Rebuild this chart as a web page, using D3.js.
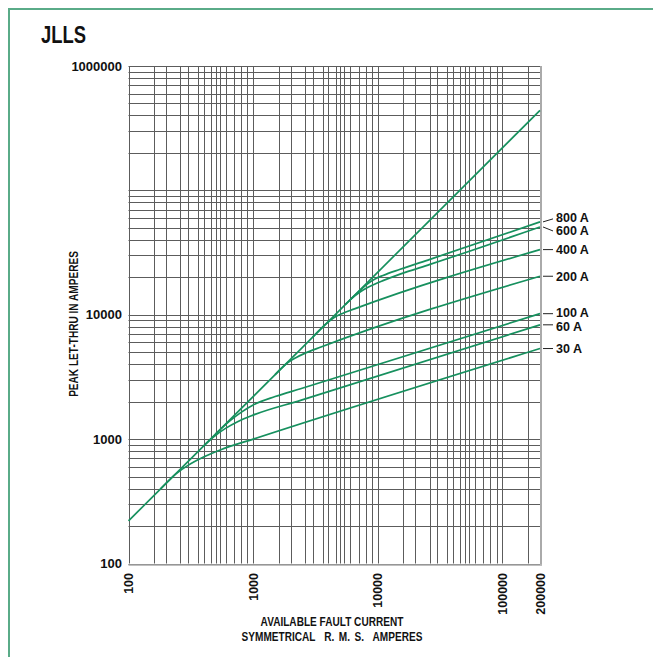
<!DOCTYPE html>
<html>
<head>
<meta charset="utf-8">
<script src="https://cdn.jsdelivr.net/npm/d3@7.9.0/dist/d3.min.js"></script>
<style>
  html, body { margin: 0; padding: 0; background: #fff; }
  svg { display: block; }
  .num { font-family: "Liberation Sans", Arial, sans-serif; font-weight: bold; fill: #111; }
  .narrow { font-family: "Liberation Sans", Arial, sans-serif; font-weight: bold; fill: #111; }
</style>
</head>
<body>
<svg id="chart" width="653" height="657"></svg>
<script>
// unlimited peak (no fuse) line
const envelope = [[100, 220], [200000, 440000]];

// fuse curves: [available rms A, peak let-thru A]
const fuse800 = [[6000, 13200], [7500, 16300], [8500, 18100], [9500, 19400], [11000, 20700], [15100, 23200], [26200, 27900], [200000, 55800]];
const fuse600 = [[5500, 12100], [6500, 14100], [7300, 15400], [8200, 16500], [9500, 17700], [11000, 18800], [15100, 21200], [26200, 25400], [200000, 50800]];
const fuse400 = [[3000, 6600], [3900, 8550], [4500, 9550], [5200, 10250], [6500, 11150], [200000, 33400]];
const fuse200 = [[1500, 3300], [1900, 4130], [2200, 4520], [2600, 4900], [3500, 5500], [200000, 20400]];
const fuse100 = [[500, 1100], [650, 1400], [800, 1640], [1000, 1880], [1500, 2200], [2400, 2540], [200000, 10200]];
const fuse60 = [[400, 880], [480, 1040], [600, 1220], [750, 1380], [1000, 1560], [2400, 2050], [200000, 8300]];
const fuse30 = [[180, 396], [240, 525], [300, 615], [400, 718], [550, 822], [1000, 1000], [200000, 5350]];

const fuseLabels = ['800 A', '600 A', '400 A', '200 A', '100 A', '60 A', '30 A'];
const fuseCurves = [fuse800, fuse600, fuse400, fuse200, fuse100, fuse60, fuse30];

const xTickLabels = [100, 1000, 10000, 100000, 200000];
const yTickLabels = [100, 1000, 10000, 1000000];
const xGridSteps = [1, 1.6, 2, 2.6, 3, 3.6, 4, 4.6, 5, 5.4, 6, 7, 8, 9];
const yGridSteps = [1, 2, 3, 4, 5, 6, 7, 8, 9];

// label nudges (text) and leader nudges for the crowded labels
const labelShift = { '800 A': -4.5, '600 A': 4, '100 A': -1.5, '60 A': 1.5 };
const leaderShift = { '800 A': -3, '600 A': 4 };

const svg = d3.select('#chart');
const W = 653, H = 657;
const pLeft = 128.5, pRight = 540, pTop = 66, pBottom = 563.5;
const squeeze = 0.84;   // fake condensed face

const x = d3.scaleLog().domain([100, 200000]).range([pLeft, pRight]);
const y = d3.scaleLog().domain([100, 1000000]).range([pBottom, pTop]);

// outer green frame (only top/left visible)
svg.append('rect')
    .attr('x', 9).attr('y', 9)
    .attr('width', W + 20).attr('height', H + 20)
    .attr('fill', 'none')
    .attr('stroke', '#5aab88')
    .attr('stroke-width', 2);

svg.append('text')
    .attr('class', 'narrow')
    .attr('transform', `translate(41,43) scale(${0.8},1)`)
    .attr('font-size', 23)
    .text('JLLS');

// grid values
let xGrid = [];
[100, 1000, 10000, 100000].forEach(dec => {
    xGridSteps.forEach(s => { if (dec * s <= 200000) xGrid.push(dec * s); });
});
xGrid.push(200000);
let yGrid = [];
[100, 1000, 10000, 100000].forEach(dec => {
    yGridSteps.forEach(s => yGrid.push(dec * s));
});
yGrid.push(1000000);

const grid = svg.append('g').attr('stroke', '#5c5c5c').attr('stroke-width', 1);
grid.selectAll('.vx').data(xGrid).join('line')
    .attr('x1', d => Math.round(x(d)) + 0.5).attr('x2', d => Math.round(x(d)) + 0.5)
    .attr('y1', pTop).attr('y2', pBottom);
grid.selectAll('.hy').data(yGrid).join('line')
    .attr('y1', d => Math.round(y(d)) + 0.5).attr('y2', d => Math.round(y(d)) + 0.5)
    .attr('x1', pLeft).attr('x2', pRight);

// right and bottom edges look lighter and heavier
svg.append('line')
    .attr('x1', pRight + 1).attr('x2', pRight + 1)
    .attr('y1', pTop).attr('y2', pBottom + 1)
    .attr('stroke', '#aaa').attr('stroke-width', 2);
svg.append('line')
    .attr('x1', pLeft).attr('x2', pRight + 2)
    .attr('y1', pBottom + 1.5).attr('y2', pBottom + 1.5)
    .attr('stroke', '#aaa').attr('stroke-width', 1.5);

// tick labels
svg.append('g').selectAll('text').data(yTickLabels).join('text')
    .attr('class', 'num')
    .attr('x', 122)
    .attr('y', d => y(d))
    .attr('dy', '0.36em')
    .attr('text-anchor', 'end')
    .attr('font-size', 13)
    .text(d => d);

svg.append('g').selectAll('text').data(xTickLabels).join('text')
    .attr('class', 'num')
    .attr('transform', d => `translate(${x(d)},573) rotate(-90)`)
    .attr('dy', '0.36em')
    .attr('text-anchor', 'end')
    .attr('font-size', 12.5)
    .text(d => d);

// axis titles
svg.append('text')
    .attr('class', 'narrow')
    .attr('transform', `translate(78,324) rotate(-90) scale(${squeeze},1)`)
    .attr('text-anchor', 'middle')
    .attr('font-size', 12)
    .text('PEAK LET-THRU IN AMPERES');

svg.append('text')
    .attr('class', 'narrow')
    .attr('transform', `translate(332,626) scale(${squeeze},1)`)
    .attr('text-anchor', 'middle')
    .attr('font-size', 12)
    .text('AVAILABLE FAULT CURRENT');

svg.append('text')
    .attr('class', 'narrow')
    .attr('transform', `translate(332,641) scale(${squeeze},1)`)
    .attr('text-anchor', 'middle')
    .attr('font-size', 12)
    .attr('word-spacing', 2)
    .style('white-space', 'pre')
    .text('SYMMETRICAL  R. M. S.  AMPERES');

// curves
const line = d3.line()
    .x(d => x(d[0]))
    .y(d => y(d[1]))
    .curve(d3.curveMonotoneX);

const curveColor = '#16905e';
svg.append('path')
    .attr('d', line(envelope))
    .attr('fill', 'none')
    .attr('stroke', curveColor)
    .attr('stroke-width', 1.7);

fuseCurves.forEach((c, i) => {
    svg.append('path')
        .attr('d', line(c))
        .attr('fill', 'none')
        .attr('stroke', curveColor)
        .attr('stroke-width', 1.7);

    const name = fuseLabels[i];
    const end = c[c.length - 1];
    const ey = y(end[1]);
    svg.append('line')
        .attr('x1', 543).attr('x2', 553)
        .attr('y1', ey).attr('y2', ey + (leaderShift[name] || 0))
        .attr('stroke', '#222').attr('stroke-width', 1);
    svg.append('text')
        .attr('class', 'num')
        .attr('x', 556)
        .attr('y', ey + (labelShift[name] || 0))
        .attr('dy', '0.36em')
        .attr('font-size', 12.5)
        .text(name);
});
</script>
</body>
</html>
